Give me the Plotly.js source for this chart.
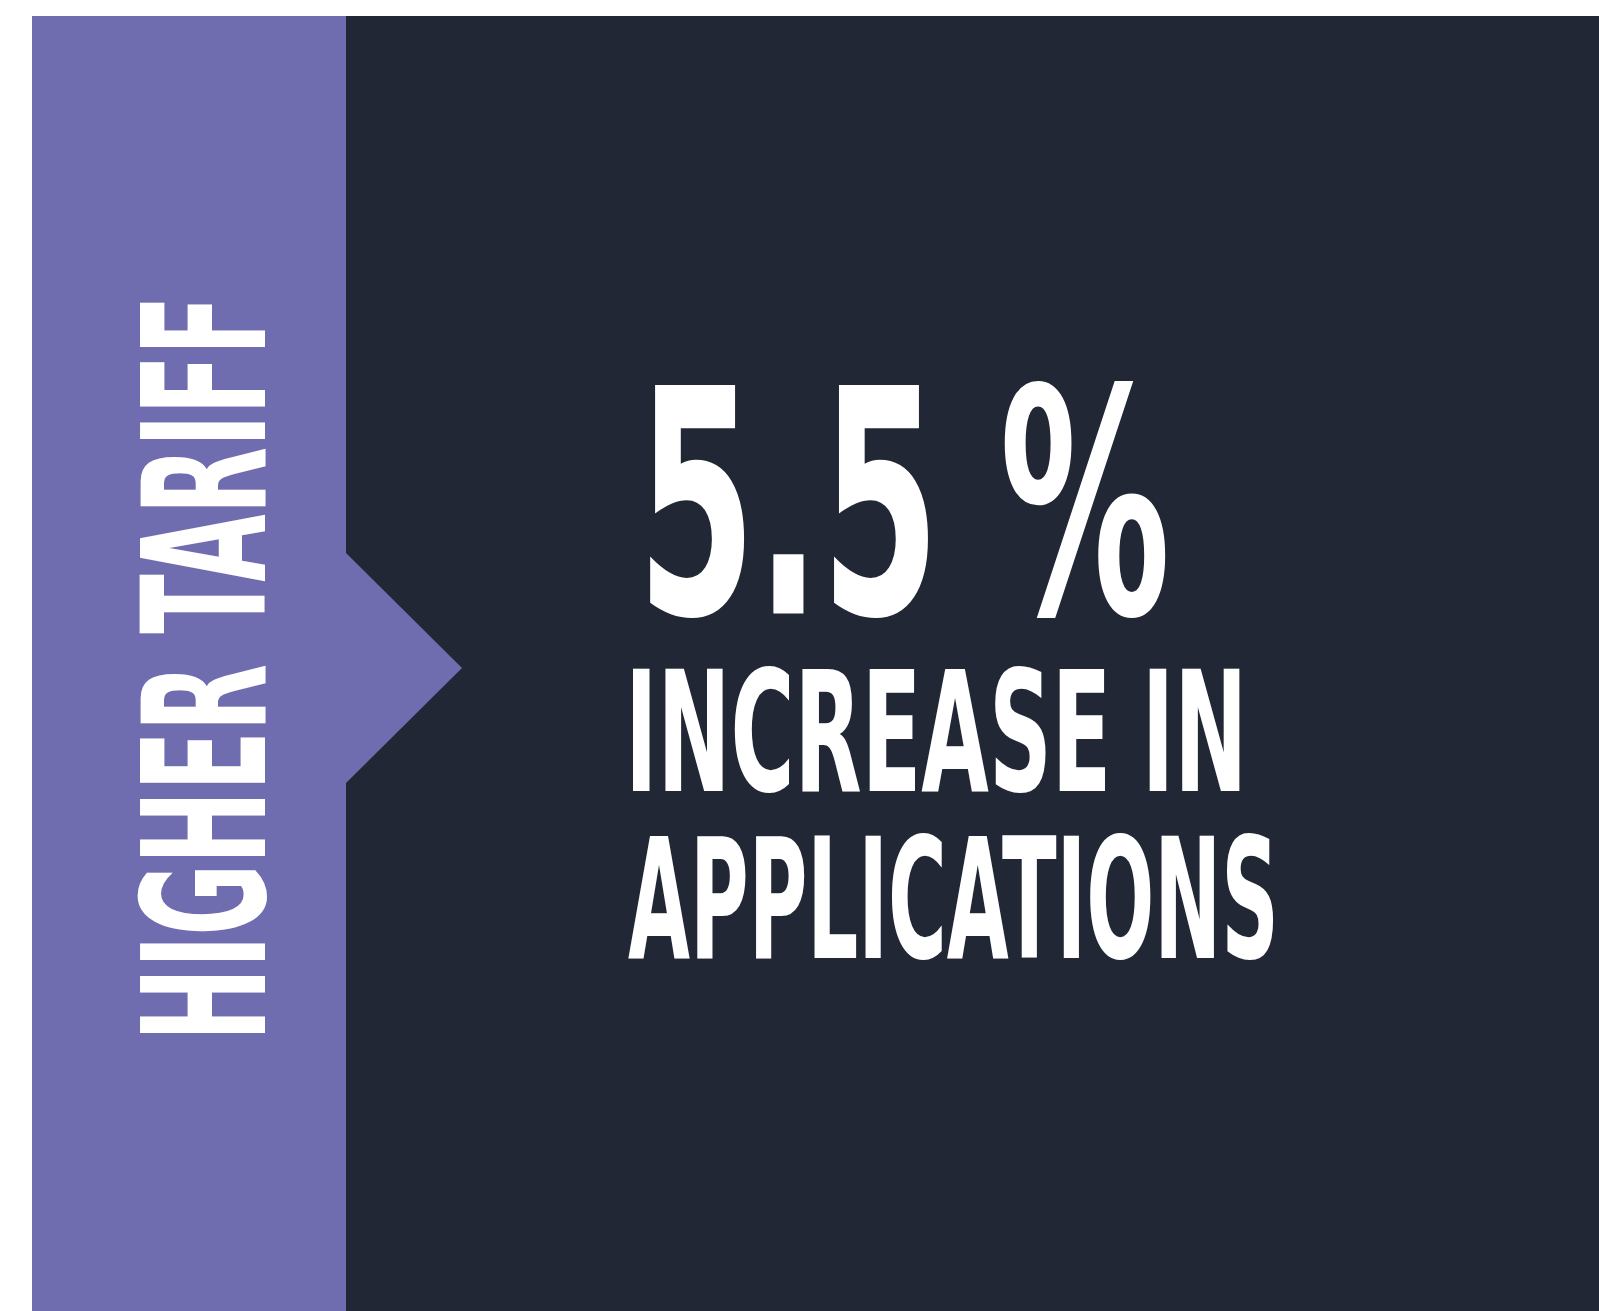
<!DOCTYPE html>
<html>
<head>
<meta charset="utf-8">
<script src="https://cdn.plot.ly/plotly-3.0.1.min.js"></script>
<style>html,body{margin:0;padding:0;background:#fff;overflow:hidden;}#chart{width:1599px;height:1311px;}</style>
</head>
<body>
<div id="chart"></div>
<script>
// ---- data ----
const categoryLabel = ['HIGHER TARIFF'];
const metricValue = [5.5];
const metricUnit = ['%'];
const descriptionLines = ['INCREASE IN', 'APPLICATIONS'];

// ---- style ----
const PURPLE = '#706cb0';
const NAVY = '#212735';
const FONT = '"Liberation Sans Narrow", "DejaVu Sans Condensed", "Arial Narrow", sans-serif';

const shapes = [
  {type: 'rect', xref: 'x', yref: 'y', x0: 32, x1: 347, y0: 16, y1: 1311, fillcolor: PURPLE, line: {width: 0}, layer: 'below'},
  {type: 'rect', xref: 'x', yref: 'y', x0: 346, x1: 1599, y0: 16, y1: 1311, fillcolor: NAVY, line: {width: 0}, layer: 'below'},
  {type: 'path', xref: 'x', yref: 'y', path: 'M 345 552 L 462 668 L 345 784 Z', fillcolor: PURPLE, line: {width: 0}, layer: 'below'}
];

const annotations = [
  {text: '<b>' + metricValue[0].toFixed(1) + ' ' + metricUnit[0] + '</b>', x: 635, y: 505, xanchor: 'left', yanchor: 'middle',
   font: {family: FONT, size: 190, color: '#ffffff'}},
  {text: '<b>' + descriptionLines[0] + '</b>', x: 623, y: 733, xanchor: 'left', yanchor: 'middle',
   font: {family: FONT, size: 97, color: '#ffffff'}},
  {text: '<b>' + descriptionLines[1] + '</b>', x: 626, y: 900, xanchor: 'left', yanchor: 'middle',
   font: {family: FONT, size: 89, color: '#ffffff'}},
  {text: '<b>' + categoryLabel[0] + '</b>', x: 206, y: 668, xanchor: 'center', yanchor: 'middle', textangle: -90,
   font: {family: FONT, size: 97, color: '#ffffff'}}
].map(a => Object.assign({xref: 'x', yref: 'y', showarrow: false}, a));

// vertical stretch of glyphs to imitate the condensed display face
const stretch = [1.65, 1.72, 1.88, 1.76];

const layout = {
  width: 1599, height: 1311,
  margin: {l: 0, r: 0, t: 0, b: 0, pad: 0},
  paper_bgcolor: '#ffffff', plot_bgcolor: '#ffffff',
  xaxis: {range: [0, 1599], visible: false, fixedrange: true},
  yaxis: {range: [1311, 0], visible: false, fixedrange: true},
  showlegend: false,
  shapes: shapes,
  annotations: annotations
};

Plotly.newPlot('chart', [], layout, {staticPlot: true, displayModeBar: false}).then(function () {
  document.querySelectorAll('#chart g.annotation').forEach(function (g) {
    const i = +g.getAttribute('data-index');
    const t = g.querySelector('text.annotation-text');
    if (!t || !stretch[i]) return;
    const bb = t.getBBox();
    const cx = bb.x + bb.width / 2, cy = bb.y + bb.height / 2;
    t.setAttribute('transform', 'translate(' + cx + ',' + cy + ') scale(1,' + stretch[i] + ') translate(' + (-cx) + ',' + (-cy) + ')');
  });
});
</script>
</body>
</html>
